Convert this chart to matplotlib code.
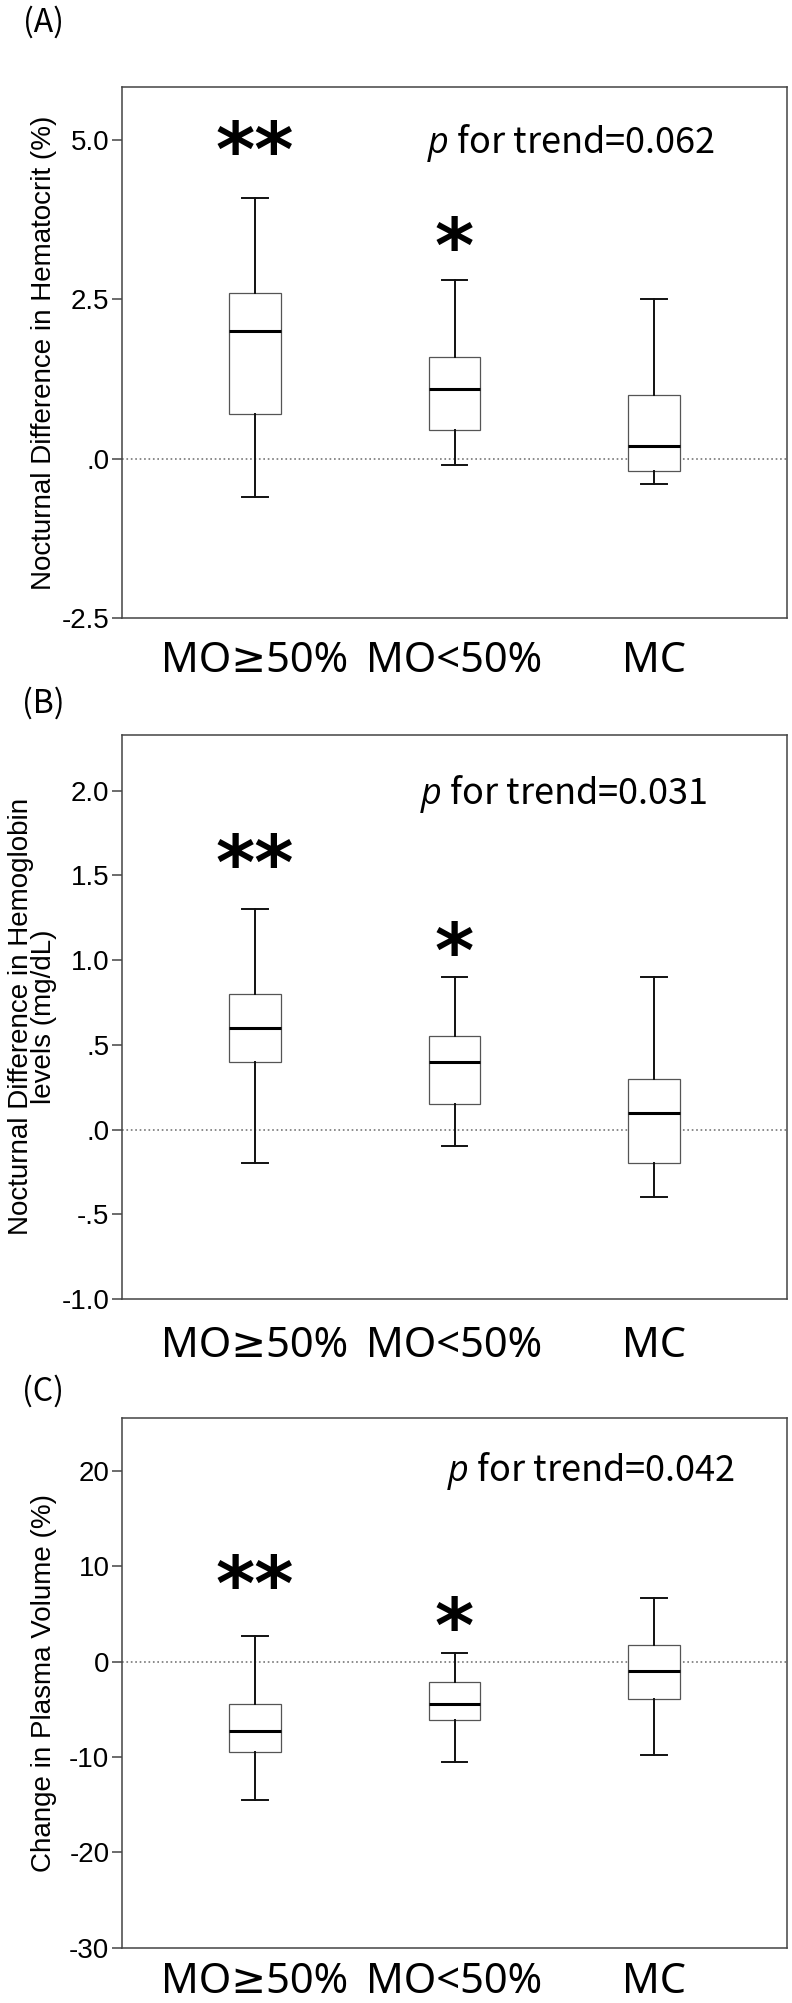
import matplotlib
matplotlib.use("Agg")
import matplotlib.pyplot as plt

# groups and box statistics
groups = ["MO≥50%", "MO<50%", "MC"]

# (A) nocturnal difference in hematocrit (%)
hct_lo = [-0.6, -0.1, -0.4]
hct_q1 = [0.7, 0.45, -0.2]
hct_med = [2.0, 1.1, 0.2]
hct_q3 = [2.6, 1.6, 1.0]
hct_hi = [4.1, 2.8, 2.5]

# (B) nocturnal difference in hemoglobin (mg/dL)
hb_lo = [-0.2, -0.1, -0.4]
hb_q1 = [0.4, 0.15, -0.2]
hb_med = [0.6, 0.4, 0.1]
hb_q3 = [0.8, 0.55, 0.3]
hb_hi = [1.3, 0.9, 0.9]

# (C) change in plasma volume (%)
pv_lo = [-14.5, -10.5, -9.8]
pv_q1 = [-9.5, -6.1, -3.9]
pv_med = [-7.3, -4.4, -1.0]
pv_q3 = [-4.4, -2.1, 1.7]
pv_hi = [2.7, 0.9, 6.7]

# significance marks (text, y position) for first two groups
hct_stars = [("**", 5.0), ("*", 3.5)]
hb_stars = [("**", 1.63), ("*", 1.11)]
pv_stars = [("**", 9.2), ("*", 4.8)]

hct_ticks = [-2.5, 0.0, 2.5, 5.0]
hct_ticklabels = ["-2.5", ".0", "2.5", "5.0"]
hb_ticks = [-1.0, -0.5, 0.0, 0.5, 1.0, 1.5, 2.0]
hb_ticklabels = ["-1.0", "-.5", ".0", ".5", "1.0", "1.5", "2.0"]
pv_ticks = [-30, -20, -10, 0, 10, 20]
pv_ticklabels = ["-30", "-20", "-10", "0", "10", "20"]

plt.rcParams['mathtext.fontset'] = 'custom'
plt.rcParams['mathtext.it'] = 'Open Sans:italic'

W, H = 792, 2003
fig = plt.figure(figsize=(W / 100, H / 100), dpi=100)

grp_font = ['Noto Sans', 'DejaVu Sans']
arial = 'Liberation Sans'
STAR_FS = 54


def panel(top_px, bot_px, lo, q1, med, q3, hi, ylim, ticks, ticklabels,
          ylabel, stars, ptext, px, py, letter, letter_y, xpad):
    ax = fig.add_axes([122 / W, 1 - bot_px / H, 665 / W, (bot_px - top_px) / H])
    stats = []
    for i in range(len(groups)):
        stats.append(dict(whislo=lo[i], q1=q1[i], med=med[i], q3=q3[i], whishi=hi[i], fliers=[]))
    ax.axhline(0, color='#777777', ls=':', lw=1.2, zorder=1)
    ax.bxp(stats, positions=[1, 2, 3], widths=0.26, capwidths=0.13, showfliers=False,
           patch_artist=True,
           boxprops=dict(facecolor='white', edgecolor='#555555', lw=0.9),
           whiskerprops=dict(color='#111111', lw=1.4),
           capprops=dict(color='#111111', lw=1.4),
           medianprops=dict(color='black', lw=2.2))
    ax.set_xlim(1 / 3, 3 + 2 / 3)
    ax.set_ylim(*ylim)
    ax.set_yticks(ticks)
    ax.set_yticklabels(ticklabels, fontfamily=arial, fontsize=20)
    ax.set_xticks([1, 2, 3])
    ax.set_xticklabels(groups, fontfamily=grp_font, fontsize=30)
    ax.tick_params(axis='x', length=0, pad=xpad)
    ax.tick_params(axis='y', length=7, width=1.1, color='#444444', pad=2)
    for s in ax.spines.values():
        s.set_color('#444444')
        s.set_linewidth(1.1)
    ax.set_ylabel(ylabel, fontfamily=arial, fontsize=20, linespacing=0.85)
    ax.yaxis.set_label_coords(-0.098, 0.5)
    # asterisks: put the visual centre of the glyph on the given y
    for i, (s, y) in enumerate(stars):
        ax.annotate(s, (i + 1, y), xytext=(0, -0.48 * STAR_FS), textcoords='offset points',
                    ha='center', va='baseline', fontsize=STAR_FS,
                    fontweight='bold', fontfamily='DejaVu Sans')
    ax.text(px, py, ptext, ha='left', va='center', fontsize=26,
            fontfamily='Noto Sans CJK KR', transform=ax.get_yaxis_transform())
    fig.text(43 / W, 1 - letter_y / H, letter, ha='center', va='center',
             fontsize=23, fontfamily='Noto Sans CJK KR')
    return ax


panel(86.7, 618, hct_lo, hct_q1, hct_med, hct_q3, hct_hi, (-2.5, 5.84),
      hct_ticks, hct_ticklabels, "Nocturnal Difference in Hematocrit (%)",
      hct_stars, "$p$ for trend=0.062", 0.458, 4.95, "(A)", 22, 16)
panel(734.6, 1299, hb_lo, hb_q1, hb_med, hb_q3, hb_hi, (-1.0, 2.33),
      hb_ticks, hb_ticklabels, "Nocturnal Difference in Hemoglobin\nlevels (mg/dL)",
      hb_stars, "$p$ for trend=0.031", 0.448, 1.98, "(B)", 703, 19)
panel(1417.6, 1947.5, pv_lo, pv_q1, pv_med, pv_q3, pv_hi, (-30, 25.6),
      pv_ticks, pv_ticklabels, "Change in Plasma Volume (%)",
      pv_stars, "$p$ for trend=0.042", 0.489, 20.0, "(C)", 1391.5, 10)

fig.savefig("out.png", dpi=100)
